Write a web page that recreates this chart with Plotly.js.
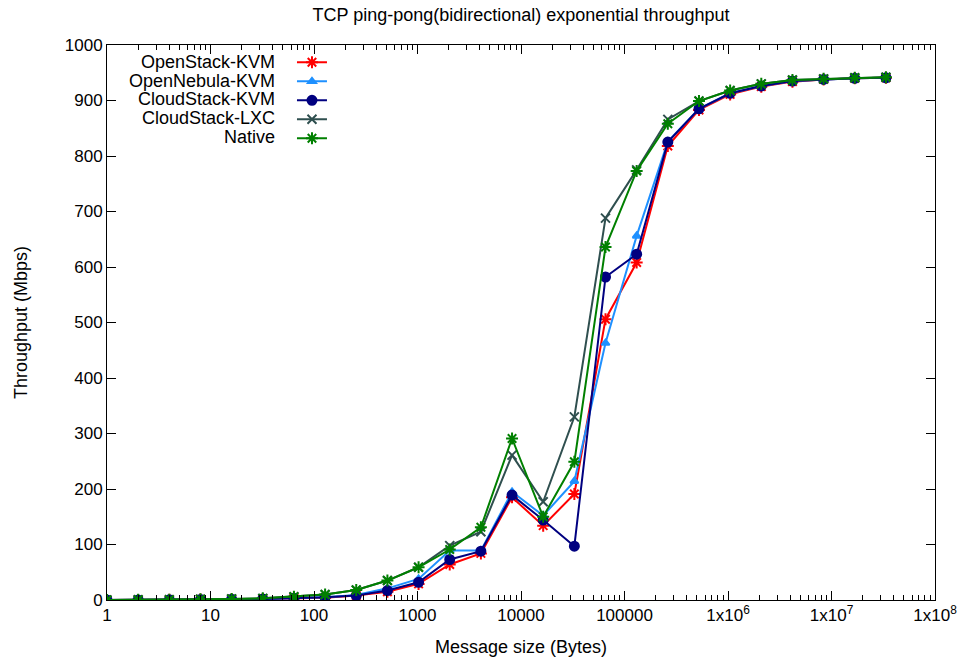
<!DOCTYPE html>
<html>
<head>
<meta charset="utf-8">
<script src="https://cdn.plot.ly/plotly-3.0.1.min.js"></script>
<style>html,body{margin:0;padding:0;background:#fff;}#chart{width:960px;height:661px;}</style>
</head>
<body>
<div id="chart"></div>
<script>
// Message sizes in bytes: 1 .. 2^25
const messageSizes = [1,2,4,8,16,32,64,128,256,512,1024,2048,4096,8192,16384,32768,65536,131072,262144,524288,1048576,2097152,4194304,8388608,16777216,33554432];

const seriesNames = ["OpenStack-KVM","OpenNebula-KVM","CloudStack-KVM","CloudStack-LXC","Native"];

const openStackKVM  = [0.1,0.2,0.4,0.8,1.5,2,3,4,8,15,29,64,84,185,134,191,506,608,818,883,911,925,934,938,940,941];
const openNebulaKVM = [0.1,0.2,0.4,0.8,1.5,2,3,5,9,21,38,89,89,195,152,214,463,656,826,885,913,926,935,938,940,941];
const cloudStackKVM = [0.1,0.2,0.4,0.8,1.5,2,3,5,8,17,32,73,88,189,144,97,582,623,825,885,913,926,935,938,940,941];
const cloudStackLXC = [0.1,0.3,0.6,1.2,2,3,6,10,18,35,59,98,123,261,177,330,688,775,866,899,918,930,937,939,941,942];
const native        = [0.1,0.3,0.6,1.2,2,3,6,10,18,35,59,91,131,291,150,249,636,773,858,899,918,930,937,939,941,942];

const xTickVals = [1,10,100,1000,10000,100000,1e6,1e7,1e8];
const xTickText = ["1","10","100","1000","10000","100000","1x10<sup>6</sup>","1x10<sup>7</sup>","1x10<sup>8</sup>"];
const yTickVals = [0,100,200,300,400,500,600,700,800,900,1000];

const seriesValues = [openStackKVM, openNebulaKVM, cloudStackKVM, cloudStackLXC, native];
const styles = [
  {color:"#ff0000", symbol:"asterisk-open", size:10},
  {color:"#1e90ff", symbol:"triangle-up", size:7},
  {color:"#000080", symbol:"circle", size:9},
  {color:"#2f4f4f", symbol:"x-thin-open", size:9},
  {color:"#008000", symbol:"asterisk-open", size:10}
];

const traces = seriesValues.map((vals, i) => ({
  type: "scatter",
  mode: "lines+markers",
  x: messageSizes,
  y: vals,
  name: " ",
  line: {color: styles[i].color, width: 2},
  marker: {color: styles[i].color, symbol: styles[i].symbol, size: styles[i].size,
           line: {color: styles[i].color, width: 2}},
  hoverinfo: "skip"
}));

// minor ticks 2..9 in each decade
const minorVals = [];
for (let d = 0; d < 8; d++) for (let m = 2; m <= 9; m++) minorVals.push(m * Math.pow(10, d));

const fontFam = "Liberation Sans, Arial, Helvetica, sans-serif";
const rowY = [0.9694, 0.9357, 0.9022, 0.869, 0.8348];
const annotations = seriesNames.map((n, i) => ({
  xref: "paper", yref: "paper", x: 0.2053, y: rowY[i],
  xanchor: "right", yanchor: "middle", text: n, showarrow: false,
  font: {family: fontFam, size: 18, color: "#000"}
}));

const layout = {
  width: 960, height: 661,
  margin: {l: 107, r: 25, t: 45, b: 61},
  paper_bgcolor: "#fff", plot_bgcolor: "#fff",
  font: {family: fontFam, size: 17, color: "#000"},
  title: {text: "TCP ping-pong(bidirectional) exponential throughput", x: 0.5427, xanchor: "center", y: 0.978, yanchor: "middle",
          font: {family: fontFam, size: 18, color: "#000"}},
  showlegend: true,
  legend: {x: 0.2234, y: 0.995, xanchor: "left", yanchor: "top", bgcolor: "rgba(0,0,0,0)",
           font: {size: 12}, tracegroupgap: 0, itemwidth: 30},
  annotations: annotations,
  xaxis: {
    type: "log", range: [0, 8],
    tickmode: "array", tickvals: xTickVals, ticktext: xTickText,
    ticks: "inside", ticklen: 9, tickwidth: 1, tickcolor: "#000",
    minor: {tickmode: "array", tickvals: minorVals, ticks: "inside", ticklen: 5, tickwidth: 1, tickcolor: "#000", showgrid: false},
    showline: true, linecolor: "#000", linewidth: 1, mirror: "ticks",
    showgrid: false, zeroline: false,
    tickfont: {family: fontFam, size: 17, color: "#000"},
    title: {text: "Message size (Bytes)", font: {family: fontFam, size: 18, color: "#000"}, standoff: 15}
  },
  yaxis: {
    range: [0, 1000],
    tickmode: "array", tickvals: yTickVals,
    ticks: "inside", ticklen: 9, tickwidth: 1, tickcolor: "#000",
    showline: true, linecolor: "#000", linewidth: 1, mirror: "ticks",
    showgrid: false, zeroline: false,
    tickfont: {family: fontFam, size: 17, color: "#000"},
    title: {text: "Throughput (Mbps)", font: {family: fontFam, size: 18, color: "#000"}, standoff: 32}
  }
};

Plotly.newPlot("chart", traces, layout, {displayModeBar: false, staticPlot: true});
</script>
</body>
</html>
